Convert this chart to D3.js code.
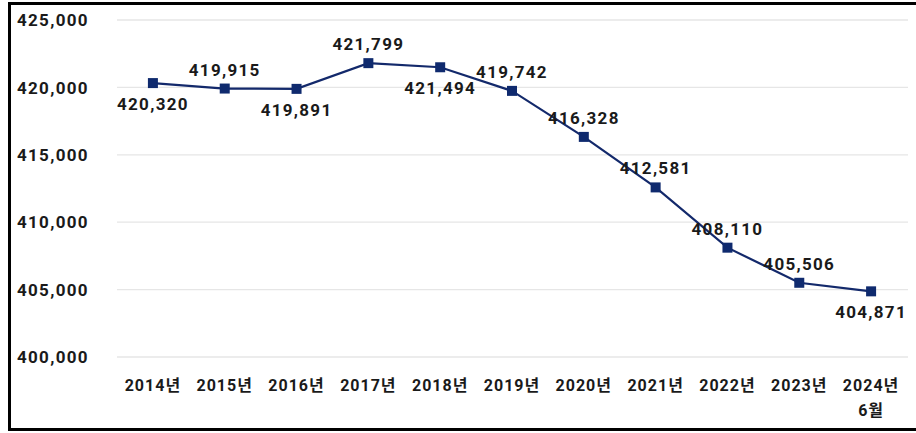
<!DOCTYPE html>
<html>
<head>
<meta charset="utf-8">
<script src="https://cdn.jsdelivr.net/npm/d3@7"></script>
<style>
	body { margin: 0; background: #fff; }
	svg text { font-family: Roboto, "Noto Sans CJK KR", sans-serif; font-weight: 700; fill: #1a1a1a; }
</style>
</head>
<body>
<svg id="viz" width="916" height="433"></svg>
<script>
var years = ["2014년", "2015년", "2016년", "2017년", "2018년", "2019년", "2020년", "2021년", "2022년", "2023년", "2024년"];
var subLabels = ["", "", "", "", "", "", "", "", "", "", "6월"];
var students = [420320, 419915, 419891, 421799, 421494, 419742, 416328, 412581, 408110, 405506, 404871];
var yTicks = [400000, 405000, 410000, 415000, 420000, 425000];
// which side of the point each value label sits on
var labelSide = ["below", "above", "below", "above", "below", "above", "above", "above", "above", "above", "below"];

var svg = d3.select("#viz"),
	width = 916,
	height = 433;

var x = d3.scaleBand()
	.domain(years)
	.range([117, 907]);

var y = d3.scaleLinear()
	.domain([400000, 425000])
	.range([357, 20]);

var fmt = d3.format(",");

// grid
svg.append("g")
	.attr("class", "grid")
	.selectAll("line")
	.data(yTicks)
	.enter().append("line")
	.attr("x1", 117).attr("x2", 908)
	.attr("y1", function (d) { return y(d); })
	.attr("y2", function (d) { return y(d); })
	.attr("stroke", "#e6e6e6")
	.attr("stroke-width", 1.3);

// y axis labels
svg.append("g")
	.selectAll("text")
	.data(yTicks)
	.enter().append("text")
	.attr("x", 17)
	.attr("y", function (d) { return y(d); })
	.attr("dy", "0.36em")
	.attr("font-size", 17)
	.attr("letter-spacing", 1.3)
	.text(function (d) { return fmt(d); });

// x axis labels
svg.append("g")
	.selectAll("text")
	.data(years)
	.enter().append("text")
	.attr("x", function (d) { return x(d) + x.bandwidth() / 2; })
	.attr("y", 391)
	.attr("text-anchor", "middle")
	.attr("font-size", 16)
	.attr("letter-spacing", 1)
	.text(function (d) { return d; });

svg.append("g")
	.selectAll("text")
	.data(years)
	.enter().append("text")
	.attr("x", function (d) { return x(d) + x.bandwidth() / 2; })
	.attr("y", 416)
	.attr("text-anchor", "middle")
	.attr("font-size", 16)
	.attr("letter-spacing", 1)
	.text(function (d, i) { return subLabels[i]; });

// line
var pts = years.map(function (d, i) { return { year: d, value: students[i], side: labelSide[i] }; });
var line = d3.line()
	.x(function (d) { return x(d.year) + x.bandwidth() / 2; })
	.y(function (d) { return y(d.value); });

svg.append("path")
	.datum(pts)
	.attr("d", line)
	.attr("fill", "none")
	.attr("stroke", "#13296b")
	.attr("stroke-width", 2.2);

svg.append("g")
	.selectAll("rect")
	.data(pts)
	.enter().append("rect")
	.attr("x", function (d) { return x(d.year) + x.bandwidth() / 2 - 5; })
	.attr("y", function (d) { return y(d.value) - 5; })
	.attr("width", 10)
	.attr("height", 10)
	.attr("fill", "#0f2a6e");

svg.append("g")
	.selectAll("text")
	.data(pts)
	.enter().append("text")
	.attr("x", function (d) { return x(d.year) + x.bandwidth() / 2; })
	.attr("y", function (d) { return y(d.value) + (d.side === "above" ? -13 : 27); })
	.attr("text-anchor", "middle")
	.attr("font-size", 17)
	.attr("letter-spacing", 1.3)
	.text(function (d) { return fmt(d.value); });

// frame (left, top, bottom)
svg.append("path")
	.attr("d", "M9.5,430 L9.5,3.5 L916,3.5 M8,429.5 L916,429.5")
	.attr("fill", "none")
	.attr("stroke", "#000")
	.attr("stroke-width", 3);
</script>
</body>
</html>
